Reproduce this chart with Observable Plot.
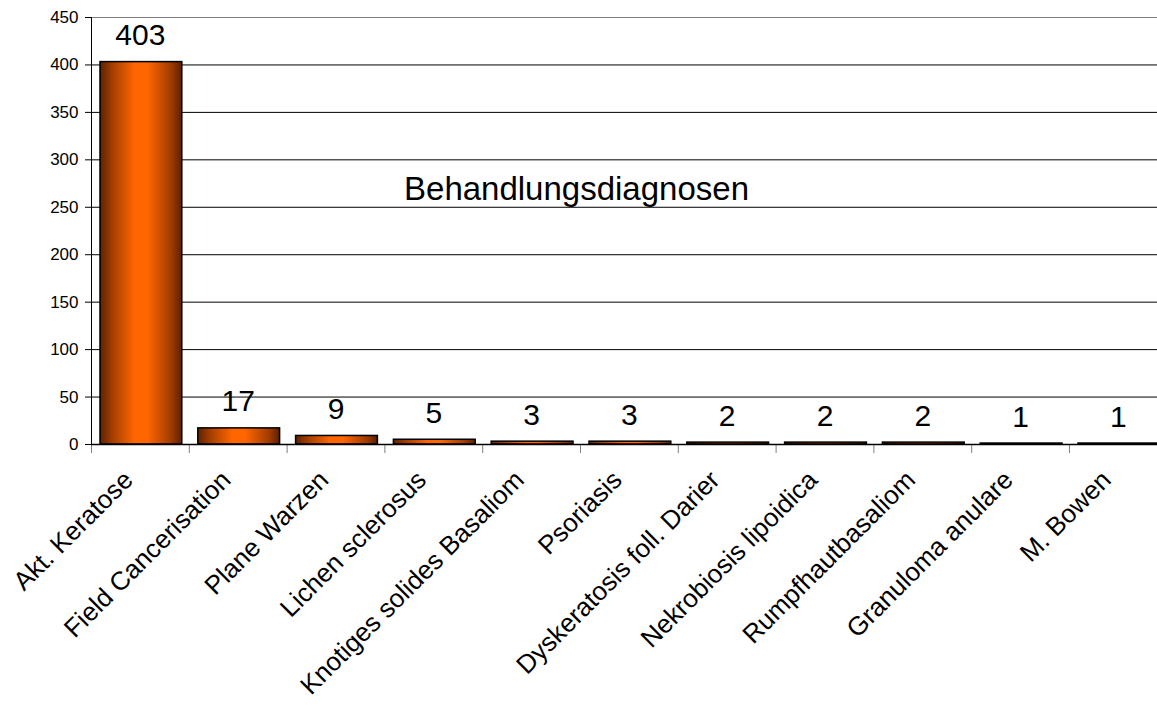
<!DOCTYPE html>
<html><head><meta charset="utf-8">
<script src="https://cdn.jsdelivr.net/npm/d3@7"></script>
<script src="https://cdn.jsdelivr.net/npm/@observablehq/plot@0.6"></script>
<style>body{margin:0;background:#fff;} svg{display:block}</style>
</head><body><div id="chart"></div>
<script>
const categories = ["Akt. Keratose","Field Cancerisation","Plane Warzen","Lichen sclerosus","Knotiges solides Basaliom","Psoriasis","Dyskeratosis foll. Darier","Nekrobiosis lipoidica","Rumpfhautbasaliom","Granuloma anulare","M. Bowen"];
const values = [403,17,9,5,3,3,2,2,2,1,1];
const yTicks = [0,50,100,150,200,250,300,350,400,450];
const title = "Behandlungsdiagnosen";

const data = categories.map((c,i)=>({category:c, value:values[i]}));
const W=1157, H=707, mL=91, mR=0, mT=17, mB=263;
// the plot area of the original runs slightly past the right edge of the picture
const xRange = [mL, mL + 97.8*categories.length];
const bw = (xRange[1]-xRange[0])/categories.length;
const font = "Arial, 'Liberation Sans', sans-serif";

const plot = Plot.plot({
  width:W, height:H, marginLeft:mL, marginRight:mR, marginTop:mT, marginBottom:mB,
  style:{fontFamily:font, background:"#fff", color:"#000"},
  x:{domain:categories, padding:0, round:false, range:xRange, axis:null},
  y:{domain:[yTicks[0], yTicks[yTicks.length-1]]},
  marks:[
    Plot.ruleY(yTicks.slice(0,-1), {stroke:"#000", strokeWidth:1}),
    Plot.ruleY(yTicks.slice(-1), {stroke:"#808080", strokeWidth:1}),
    Plot.barY(data, {x:"category", y:"value", fill:"url(#barGrad)", stroke:"#000", strokeWidth:1.5, insetLeft:9, insetRight:7}),
    Plot.ruleX(categories, {x:d=>d, dx:-bw/2, y1:0, y2:0, insetBottom:-9, stroke:"#808080"}),
    Plot.ruleX(categories.slice(0,1), {x:d=>d, dx:-bw/2, y1:0, y2:yTicks[yTicks.length-1], stroke:"#000"}),
    Plot.ruleY([0], {stroke:"#000", strokeWidth:1.5}),
    Plot.axisY({ticks:yTicks, tickSize:6, tickPadding:7, fontSize:17, label:null, stroke:"#000"}),
    Plot.text(data, {x:"category", y:"value", text:d=>String(d.value), dy:-17, lineAnchor:"bottom", fontSize:30}),
    Plot.text(data, {x:"category", y:0, text:"category", rotate:-45, textAnchor:"end", lineAnchor:"bottom", dx:-6, dy:37, fontSize:26}),
    Plot.text([title], {frameAnchor:"top", text:d=>d, dx:-48, dy:182, lineAnchor:"bottom", fontSize:33})
  ]
});

const svg = d3.select(plot);
const grad = svg.insert("defs", ":first-child").append("linearGradient")
  .attr("id","barGrad").attr("x1",0).attr("x2",1).attr("y1",0).attr("y2",0);
[[0,"#5e2200"],[0.15,"#a33e00"],[0.42,"#ff6600"],[0.58,"#ff6600"],[0.87,"#a03c00"],[1,"#5a2000"]]
  .forEach(([o,c])=>grad.append("stop").attr("offset",o).attr("stop-color",c));

document.getElementById("chart").appendChild(plot);
</script>
</body></html>
